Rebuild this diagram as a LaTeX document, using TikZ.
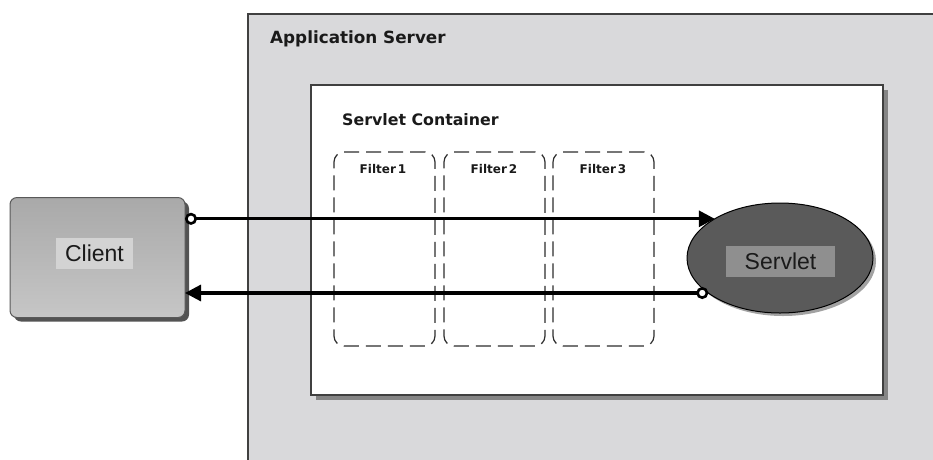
\documentclass[tikz,border=0pt]{standalone}
\usepackage{fontspec}
\setmainfont{Liberation Sans}
\newfontfamily\headfont{DejaVu Sans}
\usetikzlibrary{arrows.meta,shapes.geometric,shadows}
\definecolor{serverbg}{HTML}{D9D9DB}
\definecolor{frameline}{HTML}{404040}
\definecolor{shadowgray}{HTML}{858585}
\definecolor{clienttop}{HTML}{A9A9A9}
\definecolor{clientbottom}{HTML}{C6C6C6}
\definecolor{clientlabelbg}{HTML}{D3D3D3}
\definecolor{servletfill}{HTML}{5A5A5A}
\definecolor{servletlabelbg}{HTML}{8F8F8F}
\definecolor{servletshadow}{HTML}{A2A2A2}
\definecolor{dashline}{HTML}{2E2E2E}
\definecolor{labeltext}{HTML}{1A1A1A}

\tikzset{
  boxtitle/.style={anchor=base west, text=labeltext, inner sep=0,
    font=\headfont\bfseries\fontsize{16.5}{18}\selectfont},
  filterbox/.style={draw=dashline, line width=1.2pt, dash pattern=on 15pt off 7pt,
    rounded corners=10pt, minimum width=101pt, minimum height=194pt,
    anchor=north west, inner sep=0, outer sep=0},
  filtertitle/.style={anchor=base, text=labeltext, inner sep=0,
    font=\headfont\bfseries\fontsize{12}{13}\selectfont},
  plainlabel/.style={inner sep=0, minimum height=31pt, text=labeltext,
    font=\fontsize{23}{26}\selectfont},
  flow/.style={line width=3.2pt, black},
  flowtips/.style={{Circle[length=12pt, width=12pt, fill=white, line width=2.6pt]}-{Triangle[length=16pt, width=16pt]}}
}

\begin{document}
\begin{tikzpicture}[x=1pt, y=-1pt]
\useasboundingbox (0,0) rectangle (933,459);
\clip (0,0) rectangle (933,459);

% application server frame, running past the right and bottom edges
\node[draw=frameline, fill=serverbg, line width=2.4pt, anchor=north west,
      minimum width=720pt, minimum height=470pt, inner sep=0] (appserver) at (247,12.5) {};
\node[boxtitle, font=\headfont\bfseries\fontsize{16.8}{18}\selectfont] (apptitle) at (270,43) {Application Server};

% servlet container
\node[draw=frameline, fill=white, line width=2.4pt, anchor=north west,
      minimum width=572pt, minimum height=310pt, inner sep=0,
      drop shadow={shadow xshift=4.5pt, shadow yshift=-4.5pt, fill=shadowgray, opacity=1}]
      (container) at (310,84) {};
\node[boxtitle, font=\headfont\bfseries\fontsize{15.8}{18}\selectfont] (containertitle) at (342,125) {Servlet Container};

% filter chain
\node[filterbox] (filter1) at (334,152) {};
\node[filterbox] (filter2) at (444,152) {};
\node[filterbox] (filter3) at (553,152) {};
\node[filtertitle] (f1title) at (383,173) {Filter\,1};
\node[filtertitle] (f2title) at (494,173) {Filter\,2};
\node[filtertitle] (f3title) at (603,173) {Filter\,3};

% client
\node[draw=gray!70!black, line width=1pt, rounded corners=7pt,
      top color=clienttop, bottom color=clientbottom,
      minimum width=175pt, minimum height=120pt, inner sep=0, outer sep=0,
      drop shadow={shadow xshift=4pt, shadow yshift=-4pt, fill=gray!65!black, opacity=1}]
      (client) at (97.5,257.5) {};
\node[plainlabel, fill=clientlabelbg, minimum width=77pt] (clientlabel) at (94.5,253.5) {Client};

% servlet
\node[ellipse, draw=black, line width=1pt, fill=servletfill,
      minimum width=186pt, minimum height=110pt, inner sep=0, outer sep=0,
      drop shadow={shadow xshift=3pt, shadow yshift=-3pt, fill=servletshadow, opacity=1}]
      (servlet) at (780,258) {};
\node[plainlabel, fill=servletlabelbg, minimum width=109pt] (servletlabel) at (780.5,261.5) {Servlet};

% request and response
\coordinate (servletin) at (servlet.149.4);
\coordinate (servletout) at (servlet.206);
\draw[flow, flowtips] (client.east |- servletin) -- (servletin);
\draw[flow, flowtips] (servletout) -- (client.east |- servletout);
\end{tikzpicture}
\end{document}
